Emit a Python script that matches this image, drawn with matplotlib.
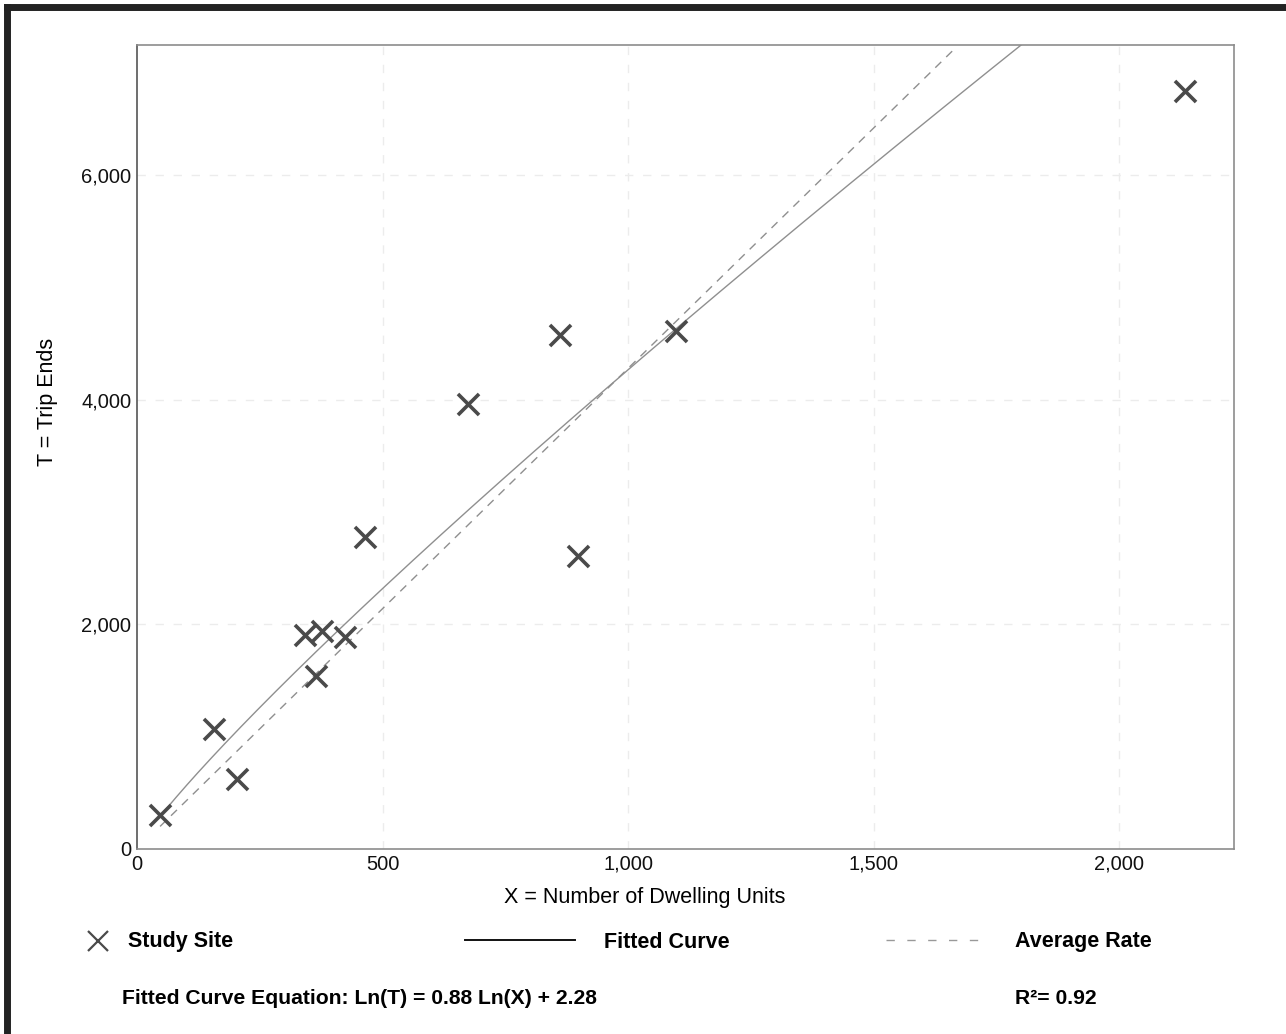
import numpy as np
import matplotlib
matplotlib.use("Agg")
import matplotlib.pyplot as plt
from matplotlib.lines import Line2D

plt.rcParams['font.family'] = ['Liberation Sans', 'DejaVu Sans']

# Data
units = [47, 157, 204, 342, 365, 377, 424, 464, 674, 861, 898, 1098, 2134]
trips = [302, 1067, 622, 1902, 1538, 1938, 1884, 2782, 3964, 4578, 2613, 4613, 6747]
fit_slope = 0.88
fit_intercept = 2.28
avg_rate = 4.28
x_ticks = [0, 500, 1000, 1500, 2000]
y_ticks = [0, 2000, 4000, 6000]
x_max = 2234
y_max = 7160

fig = plt.figure(figsize=(12.86, 10.34), dpi=100)
ax = fig.add_axes([137/1286, 1-849/1034, (1234-137)/1286, (849-45)/1034])

ax.set_xlim(0, x_max)
ax.set_ylim(0, y_max)

for t in x_ticks[1:]:
    ax.axvline(t, color='#ececec', lw=1.0, ls=(0, (6, 7)), zorder=0)
for t in y_ticks[1:]:
    ax.axhline(t, color='#ececec', lw=1.0, ls=(0, (6, 7)), zorder=0)

xs = np.linspace(min(units), x_max, 400)
ax.plot(xs, np.exp(fit_intercept) * xs ** fit_slope, color='#8f8f8f', lw=1.0, zorder=2)
xa = np.array([min(units), 1662])
ax.plot(xa, avg_rate * xa, color='#8f8f8f', lw=1.0, ls=(0, (6, 5)), zorder=2)

ax.scatter(units, trips, marker='x', s=230, linewidths=2.6, color='#4a4a4a', zorder=3)

ax.set_xticks(x_ticks)
ax.set_xticklabels([f"{v:,}" for v in x_ticks])
ax.set_yticks(y_ticks)
ax.set_yticklabels([f"{v:,}" for v in y_ticks])
ax.tick_params(length=0, labelsize=14.5, pad=4, colors='#111111')
for s in ax.spines.values():
    s.set_color('#8c8c8c')
    s.set_linewidth(1.2)
ax.spines['left'].set_color('#555555')

fig.text(645/1286, 1-897/1034, 'X = Number of Dwelling Units', ha='center', va='center', fontsize=15.5)
fig.text(47/1286, 1-402/1034, 'T = Trip Ends', ha='center', va='center', rotation=90, fontsize=15.5)

# Legend row
ly = 1 - 942/1034
fig.add_artist(Line2D([98/1286], [1-941/1034], marker='x', markersize=14, markeredgewidth=1.6,
                      color='#4a4a4a', transform=fig.transFigure))
fig.text(128/1286, ly, 'Study Site', ha='left', va='center', fontsize=15.5, fontweight='bold')
fig.add_artist(Line2D([465/1286, 575/1286], [ly+0.0015, ly+0.0015], color='#111111', lw=1.4,
                      transform=fig.transFigure))
fig.text(604/1286, ly, 'Fitted Curve', ha='left', va='center', fontsize=15.5, fontweight='bold')
fig.add_artist(Line2D([886/1286, 980/1286], [ly+0.0015, ly+0.0015], color='#999999', lw=1.0,
                      ls=(0, (6, 9)), transform=fig.transFigure))
fig.text(1015/1286, ly, 'Average Rate', ha='left', va='center', fontsize=15.5, fontweight='bold')

ey = 1 - 998/1034
fig.text(122/1286, ey, 'Fitted Curve Equation: Ln(T) = 0.88 Ln(X) + 2.28', ha='left', va='center',
         fontsize=15.2, fontweight='bold')
fig.text(1015/1286, ey, 'R²= 0.92', ha='left', va='center', fontsize=15.2, fontweight='bold')

# Outer frame (top and left visible)
fig.add_artist(Line2D([7/1286, 7/1286], [0, 1-7/1034], color='#222222', lw=5, transform=fig.transFigure,
                      solid_capstyle='projecting'))
fig.add_artist(Line2D([7/1286, 1], [1-7/1034, 1-7/1034], color='#222222', lw=5, transform=fig.transFigure,
                      solid_capstyle='projecting'))

fig.savefig('out.png', dpi=100)
